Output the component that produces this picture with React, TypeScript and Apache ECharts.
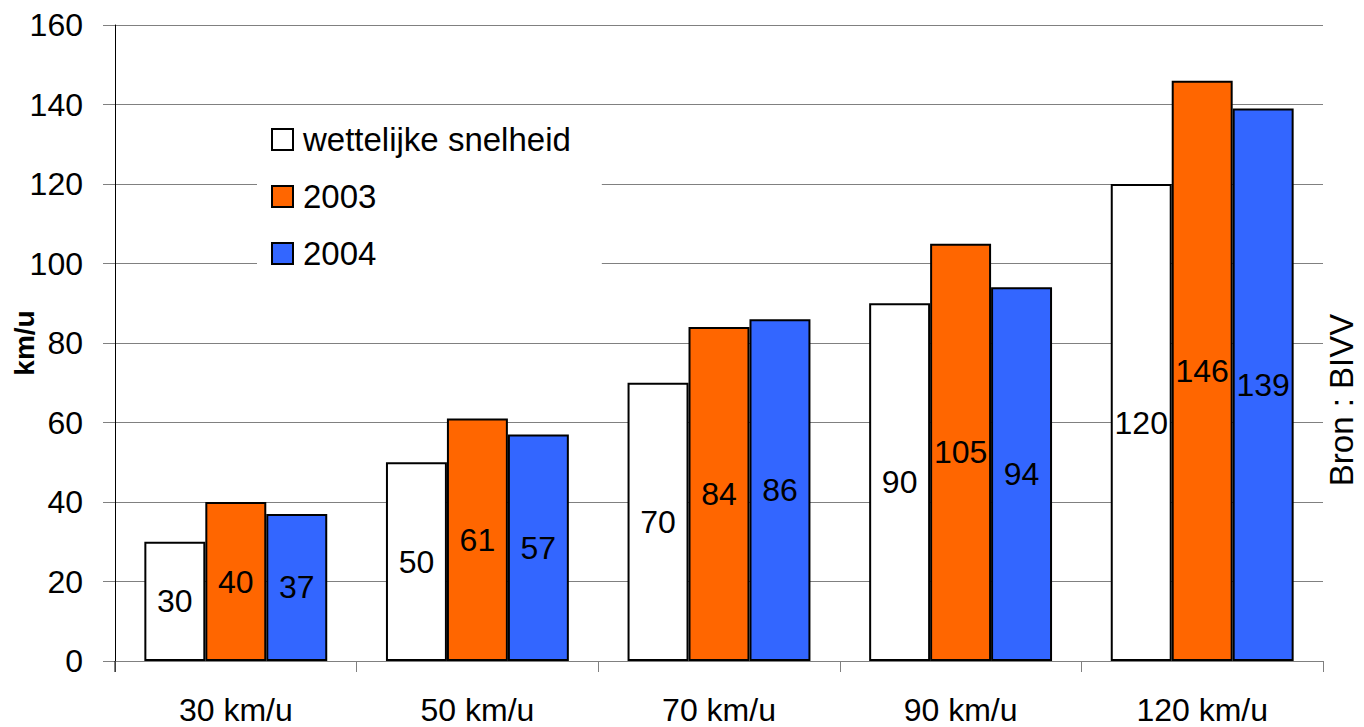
import React, { useEffect, useRef } from "react";
import * as echarts from "echarts";

const categories = ["30 km/u", "50 km/u", "70 km/u", "90 km/u", "120 km/u"];
const seriesNames = ["wettelijke snelheid", "2003", "2004"];
const legalSpeed = [30, 50, 70, 90, 120];
const speed2003 = [40, 61, 84, 105, 146];
const speed2004 = [37, 57, 86, 94, 139];
const seriesColors = ["#FFFFFF", "#FF6600", "#3366FF"];
const yTicks = { min: 0, max: 160, interval: 20 };

const FONT = "'Liberation Sans', Arial, Helvetica, sans-serif";
const GRID = { left: 115, right: 41, top: 25, bottom: 66 };

export default function App() {
  const ref = useRef<HTMLDivElement>(null);

  useEffect(() => {
    if (!ref.current) return;
    const chart = echarts.init(ref.current, undefined, { renderer: "svg" });
    const values = [legalSpeed, speed2003, speed2004];
    const H = 727;
    const option: any = {
      animation: false,
      backgroundColor: "#FFFFFF",
      textStyle: { fontFamily: FONT },
      grid: { ...GRID, containLabel: false, outerBoundsMode: "none" },
      legend: {
        orient: "vertical",
        left: 257,
        top: 111,
        padding: [12, 31, 12, 14],
        backgroundColor: "#FFFFFF",
        itemWidth: 21,
        itemHeight: 21,
        itemGap: 24,
        icon: "rect",
        data: seriesNames,
        itemStyle: { borderColor: "#000000", borderWidth: 2 },
        textStyle: {
          fontSize: 33,
          color: "#000000",
          fontFamily: FONT,
          padding: [0, 0, 0, 5],
        },
        z: 10,
      },
      xAxis: {
        type: "category",
        data: categories,
        boundaryGap: true,
        axisLine: { show: true, lineStyle: { color: "#808080", width: 1 } },
        axisTick: {
          show: true,
          alignWithLabel: false,
          length: 11,
          lineStyle: { color: "#808080", width: 1 },
        },
        axisLabel: {
          fontSize: 32,
          color: "#000000",
          margin: 33,
          fontFamily: FONT,
        },
        splitLine: { show: false },
      },
      yAxis: {
        type: "value",
        min: yTicks.min,
        max: yTicks.max,
        interval: yTicks.interval,
        name: "km/u",
        nameLocation: "middle",
        nameGap: 77,
        nameRotate: 90,
        nameMoveOverlap: false,
        nameTextStyle: {
          fontSize: 28,
          fontWeight: "bold",
          color: "#000000",
          fontFamily: FONT,
        },
        axisLine: { show: true, lineStyle: { color: "#000000", width: 1 } },
        axisTick: {
          show: true,
          length: 12,
          lineStyle: { color: "#808080", width: 1 },
        },
        axisLabel: {
          fontSize: 32,
          color: "#000000",
          margin: 32,
          fontFamily: FONT,
        },
        splitLine: { show: true, lineStyle: { color: "#808080", width: 1 } },
      },
      graphic: [
        {
          type: "line",
          shape: { x1: GRID.left, y1: H - GRID.bottom, x2: GRID.left, y2: H - GRID.bottom + 11 },
          style: { stroke: "#000000", lineWidth: 1 },
          z: 20,
        },
        {
          type: "text",
          x: 1341,
          y: 400,
          rotation: Math.PI / 2,
          style: {
            text: "Bron : BIVV",
            fontSize: 33,
            fontFamily: FONT,
            fill: "#000000",
            align: "center",
            verticalAlign: "middle",
          },
          z: 20,
        },
      ],
      series: seriesNames.map((name, i) => ({
        name,
        type: "bar",
        data: values[i],
        barGap: "0%",
        barCategoryGap: "24.3%",
        itemStyle: {
          color: seriesColors[i],
          borderColor: "#000000",
          borderWidth: 2,
        },
        label: {
          show: true,
          position: "inside",
          fontSize: 32,
          color: "#000000",
          fontFamily: FONT,
        },
        z: 3,
      })),
    };
    chart.setOption(option);
    return () => chart.dispose();
  }, []);

  return <div ref={ref} style={{ width: 1364, height: 727, position: "absolute", left: 0, top: 0 }} />;
}
